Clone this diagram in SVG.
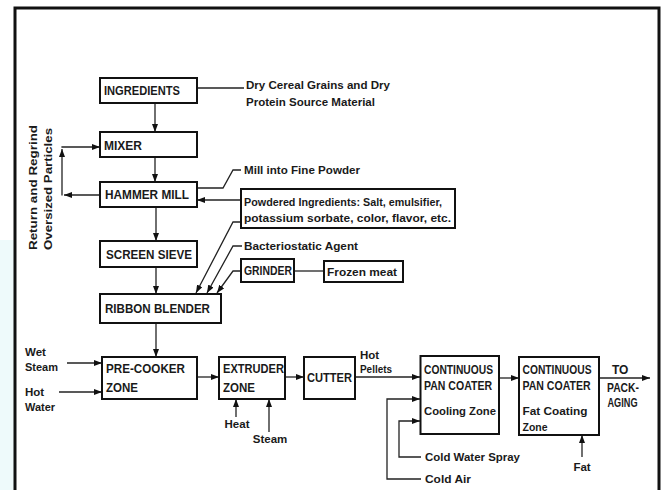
<svg xmlns="http://www.w3.org/2000/svg" width="664" height="490" viewBox="0 0 664 490">
<defs>
<style>
text{font-family:"Liberation Sans",Arial,sans-serif;font-size:12px;font-weight:bold;fill:#1a1a1a}
.lbl{font-weight:bold;font-size:11.5px}
.box{fill:#fff;stroke:#111;stroke-width:2}
.ln{fill:none;stroke:#222;stroke-width:1.3}
.ar{fill:none;stroke:#222;stroke-width:1.3;marker-end:url(#ah)}
.mid{text-anchor:middle}
</style>
<marker id="ah" markerUnits="userSpaceOnUse" markerWidth="8" markerHeight="6" refX="8" refY="3" orient="auto">
<path d="M0,0 L8,3 L0,6 z" fill="#111"/>
</marker>
</defs>
<rect x="0" y="0" width="664" height="490" fill="#fff"/>
<rect x="0" y="240" width="14" height="250" fill="#eefafb"/>
<path d="M15,490 V8 H659 V490" fill="none" stroke="#111" stroke-width="3"/>

<g id="connectors">
<path class="ln" d="M197,88 H244"/>
<path class="ar" d="M155,103 V132"/>
<path class="ar" d="M155,157 V182"/>
<path class="ar" d="M100,195 H64"/>
<path class="ar" d="M62,195.6 V149"/>
<path class="ar" d="M61.4,147 H100"/>
<path class="ar" d="M156,207 V241"/>
<path class="ar" d="M156,267 V294"/>
<path class="ln" d="M197,188 H223 L233,170 H241"/>
<path class="ar" d="M241,200 H197"/>
<path class="ar" d="M241,222 H233 L196,293"/>
<path class="ar" d="M242,246 H233 L207,293"/>
<path class="ar" d="M241,271 H233 L217,293"/>
<path class="ln" d="M294,271 H324"/>
<path class="ar" d="M156,323 V357"/>
<path class="ar" d="M67,363 H102"/>
<path class="ar" d="M59,392 H102"/>
<path class="ar" d="M197,377 H219"/>
<path class="ar" d="M236,417 V399"/>
<path class="ar" d="M269,432 V399"/>
<path class="ar" d="M285,377 H304"/>
<path class="ar" d="M355,377 H420"/>
<path class="ar" d="M421,479 H387 V399 H420"/>
<path class="ar" d="M421,457 H399 V421 H420"/>
<path class="ar" d="M499,378 H519"/>
<path class="ar" d="M582,457 V435"/>
<path class="ar" d="M599,378 H650"/>
</g>

<g id="ingredients"><rect class="box" x="100" y="78" width="97" height="25"/><text x="104" y="95" textLength="76" lengthAdjust="spacingAndGlyphs">INGREDIENTS</text></g>
<g id="ingredients-note"><text class="lbl" x="246" y="89" textLength="144" lengthAdjust="spacingAndGlyphs">Dry Cereal Grains and Dry</text><text class="lbl" x="246" y="106" textLength="129" lengthAdjust="spacingAndGlyphs">Protein Source Material</text></g>
<g id="mixer"><rect class="box" x="100" y="132" width="97" height="25"/><text x="104" y="149.5" textLength="38" lengthAdjust="spacingAndGlyphs">MIXER</text></g>
<g id="return-note"><text class="lbl" transform="translate(37,250) rotate(-90)" textLength="125" lengthAdjust="spacingAndGlyphs">Return and Regrind</text><text class="lbl" transform="translate(52,250) rotate(-90)" textLength="122" lengthAdjust="spacingAndGlyphs">Oversized Particles</text></g>
<g id="hammer-mill"><rect class="box" x="100" y="182" width="97" height="25"/><text x="105" y="199" textLength="84" lengthAdjust="spacingAndGlyphs">HAMMER MILL</text></g>
<g id="mill-note"><text class="lbl" x="244" y="174" textLength="116" lengthAdjust="spacingAndGlyphs">Mill into Fine Powder</text></g>
<g id="powdered"><rect class="box" x="241" y="189" width="214" height="39"/><text class="lbl" x="244" y="206" textLength="198" lengthAdjust="spacingAndGlyphs">Powdered Ingredients: Salt, emulsifier,</text><text class="lbl" x="244" y="222" textLength="207" lengthAdjust="spacingAndGlyphs">potassium sorbate, color, flavor, etc.</text></g>
<g id="screen-sieve"><rect class="box" x="100" y="241" width="97" height="26"/><text x="106" y="258.5" textLength="86" lengthAdjust="spacingAndGlyphs">SCREEN SIEVE</text></g>
<g id="bacteriostatic"><text class="lbl" x="244" y="250" textLength="114" lengthAdjust="spacingAndGlyphs">Bacteriostatic Agent</text></g>
<g id="grinder"><rect class="box" x="241" y="259" width="53" height="23"/><text x="244" y="275" textLength="48" lengthAdjust="spacingAndGlyphs">GRINDER</text></g>
<g id="frozen-meat"><rect class="box" x="324" y="261" width="79" height="21"/><text class="lbl" x="327" y="276" textLength="70" lengthAdjust="spacingAndGlyphs">Frozen meat</text></g>
<g id="ribbon-blender"><rect class="box" x="100" y="294" width="121" height="29"/><text x="105" y="313" textLength="105" lengthAdjust="spacingAndGlyphs">RIBBON BLENDER</text></g>
<g id="precooker-inputs"><text class="lbl" x="25" y="356">Wet</text><text class="lbl" x="25" y="371" textLength="33" lengthAdjust="spacingAndGlyphs">Steam</text><text class="lbl" x="25" y="396">Hot</text><text class="lbl" x="25" y="411" textLength="30" lengthAdjust="spacingAndGlyphs">Water</text></g>
<g id="pre-cooker"><rect class="box" x="102" y="357" width="95" height="42"/><text x="106" y="372.5" textLength="79" lengthAdjust="spacingAndGlyphs">PRE-COOKER</text><text x="106" y="391.5" textLength="32" lengthAdjust="spacingAndGlyphs">ZONE</text></g>
<g id="extruder"><rect class="box" x="219" y="357" width="66" height="42"/><text x="223" y="372.5" textLength="61" lengthAdjust="spacingAndGlyphs">EXTRUDER</text><text x="223" y="391.5" textLength="32" lengthAdjust="spacingAndGlyphs">ZONE</text></g>
<g id="extruder-inputs"><text class="lbl mid" x="237" y="428">Heat</text><text class="lbl mid" x="270" y="443">Steam</text></g>
<g id="cutter"><rect class="box" x="304" y="357" width="51" height="42"/><text x="307" y="381.5" textLength="45" lengthAdjust="spacingAndGlyphs">CUTTER</text></g>
<g id="hot-pellets"><text class="lbl" x="360" y="359">Hot</text><text class="lbl" x="360" y="373" textLength="32" lengthAdjust="spacingAndGlyphs">Pellets</text></g>
<g id="coater-cooling"><rect class="box" x="420.5" y="356" width="78.5" height="78"/><text x="424" y="374" textLength="69" lengthAdjust="spacingAndGlyphs">CONTINUOUS</text><text x="424" y="390" textLength="68" lengthAdjust="spacingAndGlyphs">PAN COATER</text><text class="lbl" x="424" y="415" textLength="72" lengthAdjust="spacingAndGlyphs">Cooling Zone</text></g>
<g id="cooling-inputs"><text class="lbl" x="425" y="461" textLength="95" lengthAdjust="spacingAndGlyphs">Cold Water Spray</text><text class="lbl" x="425" y="483" textLength="46" lengthAdjust="spacingAndGlyphs">Cold Air</text></g>
<g id="coater-fat"><rect class="box" x="519" y="357" width="80" height="78"/><text x="522.5" y="374" textLength="69" lengthAdjust="spacingAndGlyphs">CONTINUOUS</text><text x="522.5" y="390" textLength="68" lengthAdjust="spacingAndGlyphs">PAN COATER</text><text class="lbl" x="522.5" y="415" textLength="65" lengthAdjust="spacingAndGlyphs">Fat Coating</text><text class="lbl" x="522.5" y="431" textLength="25" lengthAdjust="spacingAndGlyphs">Zone</text></g>
<g id="fat"><text class="lbl mid" x="582" y="471">Fat</text></g>
<g id="packaging"><text x="612" y="374">TO</text><text x="607" y="392" textLength="32" lengthAdjust="spacingAndGlyphs">PACK-</text><text x="607.5" y="407" textLength="30" lengthAdjust="spacingAndGlyphs">AGING</text></g>
</svg>
